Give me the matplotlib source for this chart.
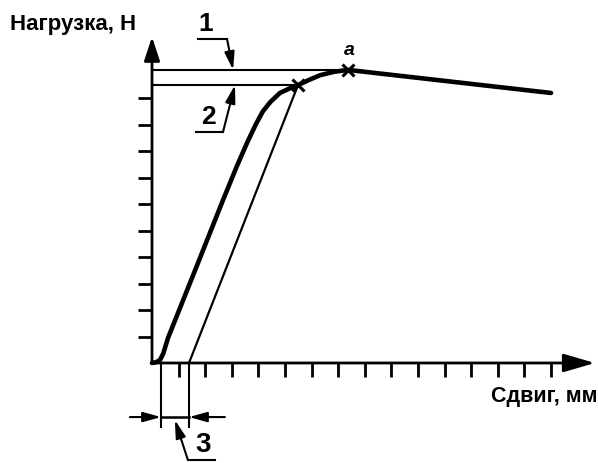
import matplotlib
matplotlib.use("Agg")
import matplotlib.pyplot as plt

plt.rcParams['font.family'] = ['Liberation Sans', 'DejaVu Sans']

# load curve (x in tick units of shear, y in tick units of load)
shear = [0.0, 0.15, 0.3, 0.42, 0.6, 1.6, 2.67, 3.2, 3.57, 3.9, 4.17, 4.45,
         4.81, 5.15, 5.49, 5.9, 6.32, 6.85, 7.37, 15.0]
load = [0.0, 0.03, 0.11, 0.35, 0.94, 3.45, 6.15, 7.45, 8.3, 9.0, 9.5, 9.85,
        10.19, 10.35, 10.49, 10.68, 10.86, 10.99, 11.06, 10.19]

# offset (parallel) line and the two marked points
offset_x = [1.39, 5.49]
offset_y = [0.0, 10.49]
point_x = [5.49, 7.37]
point_y = [10.49, 11.06]
level_1 = 11.06
level_2 = 10.49
dim_left = 0.34
dim_right = 1.39

x_ticks = list(range(1, 16))
y_ticks = list(range(1, 11))

fig = plt.figure(figsize=(5.98, 4.63), dpi=100)
ax = fig.add_axes([0, 0, 1, 1])
ax.set_xlim(-152 / 26.6, (598 - 152) / 26.6)
ax.set_ylim((363 - 463) / 26.5, 363 / 26.5)
ax.axis("off")

k = 'black'

# axes with arrows
ax.annotate('', xy=(0, 12.3), xytext=(0, 0),
            arrowprops=dict(arrowstyle='-|>,head_length=0.9,head_width=0.3',
                            lw=2.0, color=k, mutation_scale=16,
                            shrinkA=0, shrinkB=0))
ax.annotate('', xy=(16.65, 0), xytext=(0, 0),
            arrowprops=dict(arrowstyle='-|>,head_length=1.2,head_width=0.35',
                            lw=2.0, color=k, mutation_scale=16,
                            shrinkA=0, shrinkB=0))
for t in x_ticks:
    ax.plot([t, t], [0, -0.53], color=k, lw=2.0, solid_capstyle='butt')
for t in y_ticks:
    ax.plot([-0.53, 0], [t, t], color=k, lw=2.0, solid_capstyle='butt')

# horizontal levels 1 and 2
ax.plot([0, point_x[1]], [level_1, level_1], color=k, lw=1.5)
ax.plot([0, point_x[0]], [level_2, level_2], color=k, lw=1.5)

# curves
ax.plot(offset_x, offset_y, color=k, lw=1.6)
ax.plot(shear, load, color=k, lw=3.3, solid_capstyle='round',
        solid_joinstyle='round')
ax.plot(point_x, point_y, 'x', color=k, ms=8, mew=2.2)
ax.text(7.41, 11.8, 'a', style='italic', fontweight='bold', fontsize=14,
        ha='center', va='center')

# axis titles
ax.text(-5.34, 12.79, 'Нагрузка, Н', fontsize=16, fontweight='bold',
        ha='left', va='center')
ax.text(16.73, -1.28, 'Сдвиг, мм', fontsize=15.5, fontweight='bold',
        ha='right', va='center')

leader = dict(arrowstyle='-|>,head_length=0.9,head_width=0.25', lw=1.5,
              color=k, mutation_scale=12, shrinkA=0, shrinkB=0)

# label 1
ax.plot([1.73, 2.82], [12.23, 12.23], color=k, lw=1.5)
ax.annotate('', xy=(3.05, level_1), xytext=(2.82, 12.23), arrowprops=leader)
ax.text(2.03, 12.8, '1', fontsize=19, fontweight='bold', ha='center',
        va='center')

# label 2
ax.plot([1.65, 2.67], [8.72, 8.72], color=k, lw=1.5)
ax.annotate('', xy=(3.12, level_2), xytext=(2.67, 8.72), arrowprops=leader)
ax.text(2.14, 9.3, '2', fontsize=19, fontweight='bold', ha='center',
        va='center')

# dimension 3
ax.plot([dim_left, dim_left], [0, -2.42], color=k, lw=1.5)
ax.plot([dim_right, dim_right], [0, -2.42], color=k, lw=1.5)
ax.plot([dim_left, dim_right], [-2.04, -2.04], color=k, lw=1.8)
ax.annotate('', xy=(dim_left, -2.04), xytext=(-0.83, -2.04), arrowprops=leader)
ax.annotate('', xy=(dim_right, -2.04), xytext=(2.74, -2.04), arrowprops=leader)
ax.plot([1.35, 2.37], [-3.66, -3.66], color=k, lw=1.5)
ax.annotate('', xy=(0.86, -2.15), xytext=(1.35, -3.66), arrowprops=leader)
ax.text(1.92, -3.1, '3', fontsize=20, fontweight='bold', ha='center',
        va='center')

fig.savefig('out.png', dpi=100)
